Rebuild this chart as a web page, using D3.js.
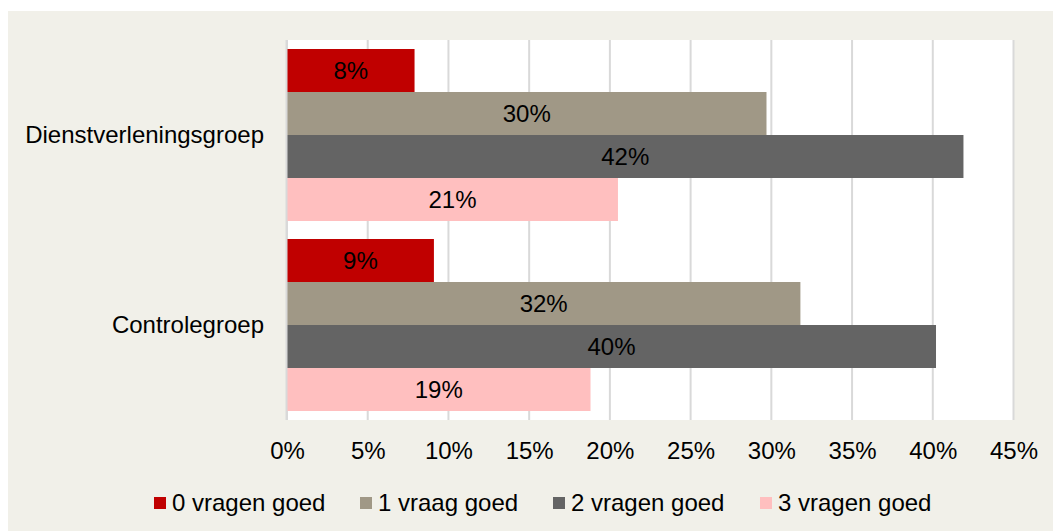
<!DOCTYPE html>
<html>
<head>
<meta charset="utf-8">
<script src="https://cdn.jsdelivr.net/npm/d3@7"></script>
<style>
  html, body { margin: 0; padding: 0; background: #ffffff; }
  svg text { font-family: "Liberation Sans", Arial, sans-serif; fill: #000; }
</style>
</head>
<body>
<div id="area"></div>
<script>
// chart data
var categories = ['Dienstverleningsgroep', 'Controlegroep'];
var seriesNames = ['0 vragen goed', '1 vraag goed', '2 vragen goed', '3 vragen goed'];
var seriesColors = ['#c00000', '#a09886', '#646464', '#ffbfbf'];
var valuesDienst = [7.9, 29.7, 41.9, 20.5];
var valuesControle = [9.1, 31.8, 40.2, 18.8];
var labelsDienst = ['8%', '30%', '42%', '21%'];
var labelsControle = ['9%', '32%', '40%', '19%'];
var xTicks = [0, 5, 10, 15, 20, 25, 30, 35, 40, 45];

var width = 1053, height = 531;
var fontSize = '24px';

var svg = d3.select('#area').append('svg')
  .attr('width', width).attr('height', height);

// beige chart background
svg.append('rect')
  .attr('x', 8).attr('y', 11)
  .attr('width', width - 8).attr('height', height - 11)
  .attr('fill', '#f1f0e9');

var plot = { left: 287, right: 1013.5, top: 40, bottom: 420 };

// white plot area
svg.append('rect')
  .attr('x', plot.left).attr('y', plot.top)
  .attr('width', plot.right - plot.left).attr('height', plot.bottom - plot.top)
  .attr('fill', '#ffffff');

var x = d3.scaleLinear().domain([0, 45]).range([plot.left, plot.right]);
var y0 = d3.scaleBand().domain(categories).range([plot.top, plot.bottom]).paddingInner(0).paddingOuter(0);
var y1 = d3.scaleBand().domain(seriesNames).range([9, y0.bandwidth() - 9]);

// gridlines
svg.append('g').selectAll('line')
  .data(xTicks).enter().append('line')
  .attr('x1', function(d){ return x(d); })
  .attr('x2', function(d){ return x(d); })
  .attr('y1', plot.top).attr('y2', plot.bottom)
  .attr('stroke', '#d9d9d9')
  .attr('stroke-width', 2);

// x axis labels
var xAxis = d3.axisBottom(x).tickValues(xTicks)
  .tickFormat(function(d){ return d + '%'; })
  .tickSize(0).tickPadding(0);
var gx = svg.append('g')
  .attr('transform', 'translate(0,' + (plot.bottom + 39) + ')')
  .call(xAxis);
gx.select('.domain').remove();
gx.selectAll('text')
  .attr('dy', 0)
  .style('font-size', fontSize)
  .style('font-family', '"Liberation Sans", Arial, sans-serif')
  .attr('fill', '#000');

// category labels
svg.append('g').selectAll('text')
  .data(categories).enter().append('text')
  .attr('x', 264)
  .attr('y', function(d){ return y0(d) + y0.bandwidth() / 2; })
  .attr('dy', '0.35em')
  .attr('text-anchor', 'end')
  .style('font-size', fontSize)
  .text(function(d){ return d; });

// bars
var rows = [
  { cat: categories[0], values: valuesDienst, labels: labelsDienst },
  { cat: categories[1], values: valuesControle, labels: labelsControle }
];

rows.forEach(function(row){
  var g = svg.append('g')
    .attr('transform', 'translate(0,' + y0(row.cat) + ')');

  g.selectAll('rect')
    .data(seriesNames).enter().append('rect')
    .attr('x', x(0))
    .attr('y', function(s){ return y1(s); })
    .attr('width', function(s, i){ return x(row.values[i]) - x(0); })
    .attr('height', y1.bandwidth())
    .attr('fill', function(s, i){ return seriesColors[i]; });

  g.selectAll('text')
    .data(seriesNames).enter().append('text')
    .attr('x', function(s, i){ return (x(0) + x(row.values[i])) / 2; })
    .attr('y', function(s){ return y1(s) + y1.bandwidth() / 2; })
    .attr('dy', '0.35em')
    .attr('text-anchor', 'middle')
    .style('font-size', fontSize)
    .text(function(s, i){ return row.labels[i]; });
});

// left axis line
svg.append('line')
  .attr('x1', plot.left - 0.5).attr('x2', plot.left - 0.5)
  .attr('y1', plot.top).attr('y2', plot.bottom)
  .attr('stroke', '#d9d9d9').attr('stroke-width', 2);

// legend
var legendX = [154, 360, 553, 760];
var legend = svg.append('g').selectAll('g')
  .data(seriesNames).enter().append('g')
  .attr('transform', function(d, i){ return 'translate(' + legendX[i] + ',497)'; });

legend.append('rect')
  .attr('width', 12).attr('height', 12)
  .attr('fill', function(d, i){ return seriesColors[i]; });

legend.append('text')
  .attr('x', 18).attr('y', 6)
  .attr('dy', '0.35em')
  .style('font-size', fontSize)
  .text(function(d){ return d; });
</script>
</body>
</html>
